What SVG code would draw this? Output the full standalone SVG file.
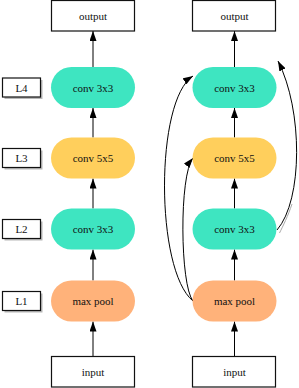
<svg xmlns="http://www.w3.org/2000/svg" width="299" height="388" viewBox="0 0 299 388" font-family="'Liberation Serif', 'DejaVu Serif', serif">
<defs>
<marker id="ah" markerWidth="10" markerHeight="7" refX="10" refY="3.5" orient="auto" markerUnits="userSpaceOnUse">
<path d="M0,0 L10,3.5 L0,7 z" fill="#000"/>
</marker>
<style>
.box{fill:#fff;stroke:#111;stroke-width:1.2}
.lbl{fill:#fff;stroke:#111;stroke-width:1.2}
.shadow{fill:#b8b8b8}
.c3{fill:#3ee5c1}
.c5{fill:#ffcf5c}
.mp{fill:#ffb27a}
.t{font-family:'Liberation Serif', 'DejaVu Serif', serif;font-size:11px;fill:#111;text-anchor:middle}
.edge{fill:none;stroke:#000;stroke-width:1}
</style>
</defs>
<rect width="299" height="388" fill="#fff"/>

<g id="connectors">
<line class="edge" x1="93" y1="356.5" x2="93" y2="321.5" marker-end="url(#ah)"/>
<line class="edge" x1="93" y1="280.5" x2="93" y2="249.5" marker-end="url(#ah)"/>
<line class="edge" x1="93" y1="208.5" x2="93" y2="178.5" marker-end="url(#ah)"/>
<line class="edge" x1="93" y1="137.5" x2="93" y2="108" marker-end="url(#ah)"/>
<line class="edge" x1="93" y1="67" x2="93" y2="31" marker-end="url(#ah)"/>
<line class="edge" x1="234.5" y1="356.5" x2="234.5" y2="321.5" marker-end="url(#ah)"/>
<line class="edge" x1="234.5" y1="280.5" x2="234.5" y2="249.5" marker-end="url(#ah)"/>
<line class="edge" x1="234.5" y1="208.5" x2="234.5" y2="178.5" marker-end="url(#ah)"/>
<line class="edge" x1="234.5" y1="137.5" x2="234.5" y2="108" marker-end="url(#ah)"/>
<line class="edge" x1="234.5" y1="67" x2="234.5" y2="31" marker-end="url(#ah)"/>
<path d="M279.5,233 C283,226 288,216 292,204" fill="none" stroke="#aaa" stroke-width="1"/>
<path class="edge" d="M193,301 C155,270 155,100 193,76" marker-end="url(#ah)"/>
<path class="edge" d="M193,301 C180,285 179,175 193,158" marker-end="url(#ah)"/>
<path class="edge" d="M277,230 C303,200 303,110 278,61" marker-end="url(#ah)"/>
</g>

<g id="label-L4"><rect class="shadow" x="4.5" y="80" width="38" height="19"/><rect class="lbl" x="2.5" y="78" width="38" height="19"/><text class="t" x="21.5" y="91.5">L4</text></g>
<g id="label-L3"><rect class="shadow" x="4.5" y="150.5" width="38" height="19"/><rect class="lbl" x="2.5" y="148.5" width="38" height="19"/><text class="t" x="21.5" y="162">L3</text></g>
<g id="label-L2"><rect class="shadow" x="4.5" y="221.5" width="38" height="19"/><rect class="lbl" x="2.5" y="219.5" width="38" height="19"/><text class="t" x="21.5" y="233">L2</text></g>
<g id="label-L1"><rect class="shadow" x="4.5" y="293.5" width="38" height="19"/><rect class="lbl" x="2.5" y="291.5" width="38" height="19"/><text class="t" x="21.5" y="305">L1</text></g>

<g id="a-output"><rect class="box" x="51.5" y="0.5" width="83" height="30.5"/><text class="t" x="93" y="19.5">output</text></g>
<g id="a-conv4"><rect class="c3" x="51" y="67" width="84" height="41" rx="20.5"/><text class="t" x="93" y="91.5">conv 3x3</text></g>
<g id="a-conv3"><rect class="c5" x="51" y="137.5" width="84" height="41" rx="20.5"/><text class="t" x="93" y="162">conv 5x5</text></g>
<g id="a-conv2"><rect class="c3" x="51" y="208.5" width="84" height="41" rx="20.5"/><text class="t" x="93" y="233">conv 3x3</text></g>
<g id="a-pool"><rect class="mp" x="51" y="280.5" width="84" height="41" rx="20.5"/><text class="t" x="93" y="305">max pool</text></g>
<g id="a-input"><rect class="box" x="51.5" y="356.5" width="83" height="30.5"/><text class="t" x="93" y="375.5">input</text></g>

<g id="b-output"><rect class="box" x="192.5" y="0.5" width="83" height="30.5"/><text class="t" x="234.5" y="19.5">output</text></g>
<g id="b-conv4"><rect class="c3" x="192.5" y="67" width="84" height="41" rx="20.5"/><text class="t" x="234.5" y="91.5">conv 3x3</text></g>
<g id="b-conv3"><rect class="c5" x="192.5" y="137.5" width="84" height="41" rx="20.5"/><text class="t" x="234.5" y="162">conv 5x5</text></g>
<g id="b-conv2"><rect class="c3" x="192.5" y="208.5" width="84" height="41" rx="20.5"/><text class="t" x="234.5" y="233">conv 3x3</text></g>
<g id="b-pool"><rect class="mp" x="192.5" y="280.5" width="84" height="41" rx="20.5"/><text class="t" x="234.5" y="305">max pool</text></g>
<g id="b-input"><rect class="box" x="192.5" y="356.5" width="83" height="30.5"/><text class="t" x="234.5" y="375.5">input</text></g>
</svg>
